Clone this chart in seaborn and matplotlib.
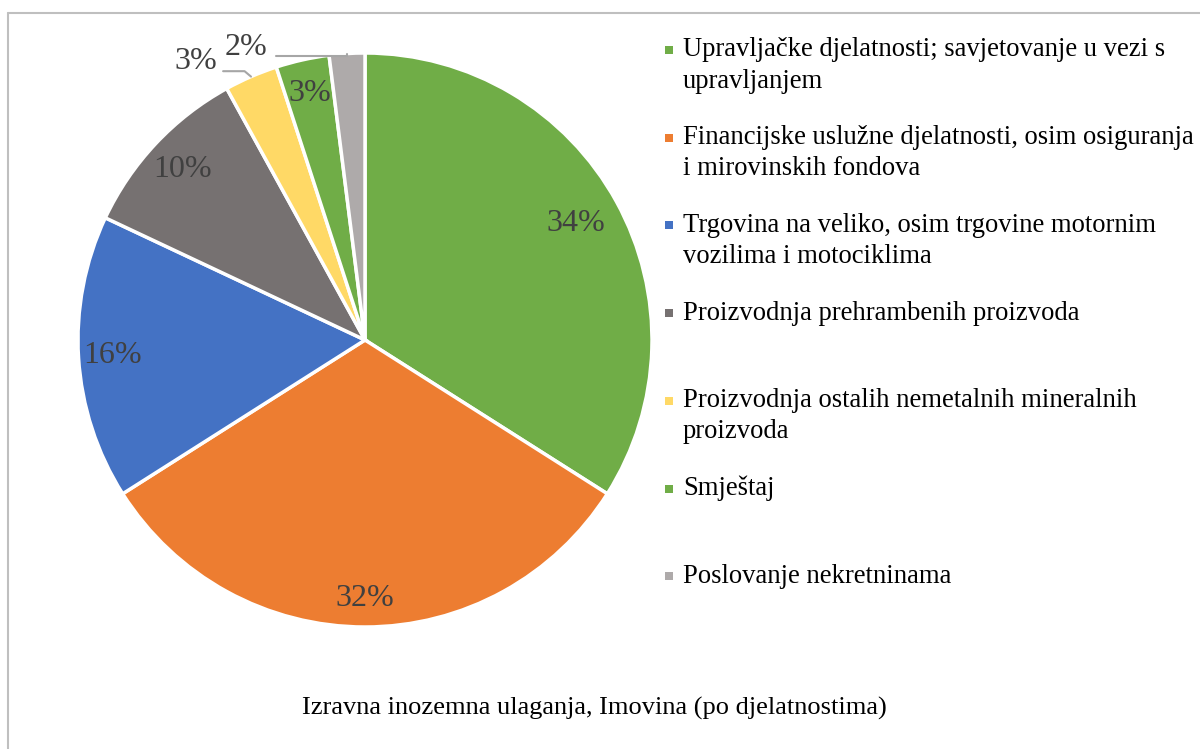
import matplotlib
matplotlib.use("Agg")
import matplotlib.pyplot as plt
from matplotlib.lines import Line2D
from matplotlib.patches import Rectangle
import numpy as np
import seaborn as sns

# data
categories = [
    "Upravljačke djelatnosti; savjetovanje u vezi s\nupravljanjem",
    "Financijske uslužne djelatnosti, osim osiguranja\ni mirovinskih fondova",
    "Trgovina na veliko, osim trgovine motornim\nvozilima i motociklima",
    "Proizvodnja prehrambenih proizvoda",
    "Proizvodnja ostalih nemetalnih mineralnih\nproizvoda",
    "Smještaj",
    "Poslovanje nekretninama",
]
shares = [34, 32, 16, 10, 3, 3, 2]
colors = ["#70AD47", "#ED7D31", "#4472C4", "#767171", "#FFD966", "#70AD47", "#AEAAAA"]
title = "Izravna inozemna ulaganja, Imovina (po djelatnostima)"

sns.set_theme(style="white")
plt.rcParams["font.family"] = ["Liberation Serif", "DejaVu Serif"]

W, H = 1200, 749
fig = plt.figure(figsize=(W / 100, H / 100), dpi=100)

# pie axes: center (365, 340), radius 287 px
cx, cy, r = 365, 340, 287
ax = fig.add_axes([(cx - r) / W, 1 - (cy + r) / H, 2 * r / W, 2 * r / H])

wedges, _ = ax.pie(
    shares, colors=colors, startangle=90, counterclock=False,
    wedgeprops=dict(edgecolor="white", linewidth=2.5),
)
ax.set_xlim(-1, 1)
ax.set_ylim(-1, 1)
ax.set_aspect("equal")
ax.axis("off")

# percentage labels
label_color = "#404040"
pct_size = 23
cum = np.cumsum([0] + shares)
total = sum(shares)
for i, v in enumerate(shares):
    mid = np.deg2rad(90 - (cum[i] + v / 2) / total * 360)
    txt = f"{v}%"
    if i == 4:
        ax.annotate(
            txt, xy=(np.cos(mid), np.sin(mid)), xytext=(-0.59, 0.972),
            ha="center", va="center", fontsize=pct_size, color=label_color,
            annotation_clip=False,
            arrowprops=dict(arrowstyle="-", color="#A6A6A6", lw=1.5, relpos=(1, 0.15),
                            connectionstyle="angle,angleA=0,angleB=140,rad=0",
                            shrinkA=2, shrinkB=0),
        )
    elif i == 6:
        ax.annotate(
            txt, xy=(np.cos(mid), np.sin(mid)), xytext=(-0.415, 1.02),
            ha="center", va="center", fontsize=pct_size, color=label_color,
            annotation_clip=False,
            arrowprops=dict(arrowstyle="-", color="#A6A6A6", lw=1.5, relpos=(1, 0.2),
                            connectionstyle="angle,angleA=0,angleB=90,rad=0",
                            shrinkA=4, shrinkB=0),
        )
    else:
        d = {0: 0.84, 1: 0.9, 2: 0.88, 3: 0.87, 5: 0.88}[i]
        ax.text(d * np.cos(mid), d * np.sin(mid), txt, ha="center", va="center",
                fontsize=pct_size, color=label_color)

# legend drawn manually: fixed slot per entry
x_marker, x_text = 669, 683
y0, step, line_h = 50, 87.7, 31
for i, (lab, col) in enumerate(zip(categories, colors)):
    yc = y0 + step * i
    fig.add_artist(Rectangle(((x_marker - 4) / W, 1 - (yc + 4) / H), 8 / W, 8 / H,
                             transform=fig.transFigure, facecolor=col, edgecolor="none"))
    for k, line in enumerate(lab.split("\n")):
        fig.text(x_text / W, 1 - (yc + line_h * k) / H, line, ha="left", va="center",
                 fontsize=19.2, color="black")

fig.text(594 / W, 1 - 708 / H, title, ha="center", va="center", fontsize=19, color="black")

# chart frame (only left and top edges visible)
fig.add_artist(Line2D([8 / W, 8 / W], [0, 1 - 13 / H], transform=fig.transFigure,
                      color="#BFBFBF", lw=1.5))
fig.add_artist(Line2D([8 / W, 1], [1 - 13 / H, 1 - 13 / H], transform=fig.transFigure,
                      color="#BFBFBF", lw=1.5))

fig.savefig("out.png", dpi=100, facecolor="white")
